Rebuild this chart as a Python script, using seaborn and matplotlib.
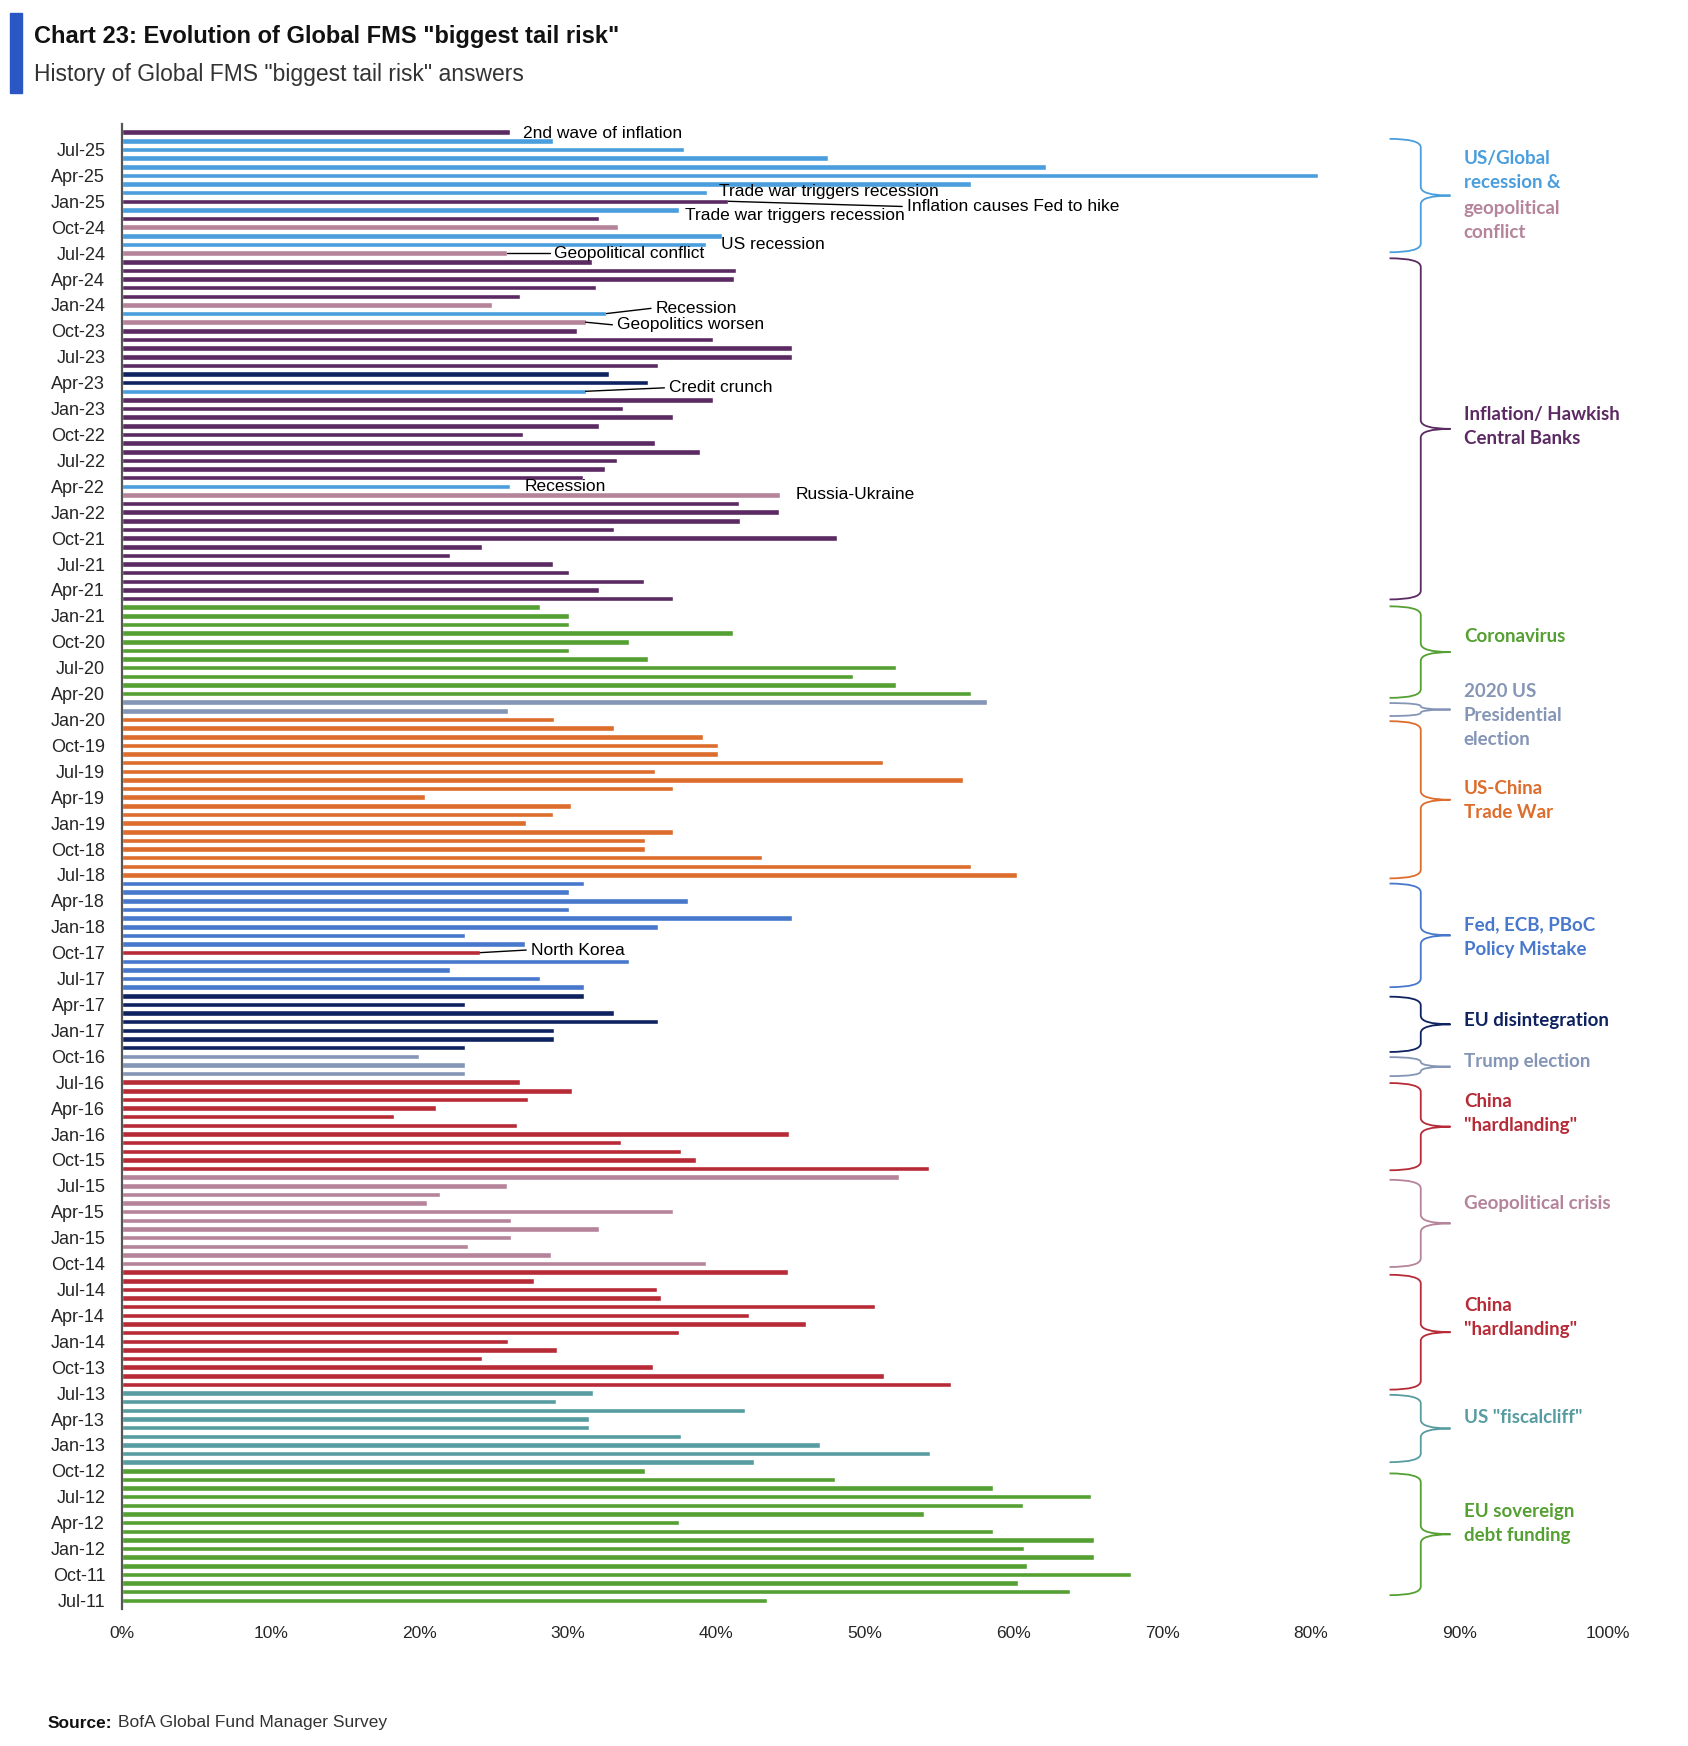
import numpy as np
import pandas as pd
import matplotlib
matplotlib.use('Agg')
import matplotlib.pyplot as plt
import matplotlib.font_manager as fm
from matplotlib.path import Path
from matplotlib.patches import PathPatch, Rectangle
import seaborn as sns

sns.set_theme(style='white')

available = {f.name for f in fm.fontManager.ttflist}
NARROW = 'Liberation Sans Narrow' if 'Liberation Sans Narrow' in available else 'Liberation Sans'
plt.rcParams['font.family'] = [NARROW, 'DejaVu Sans']

# ==================== data (top = Sep-25, bottom = Jul-11) ====================
# share of FMS answers naming the "biggest tail risk", %
values = [
    26.1, 29.0, 37.8, 47.5, 62.2, 80.5, 57.1, 39.4, 40.8,                      # 2025 Sep..Jan
    37.5, 32.1, 33.4, 40.4, 39.3, 25.9, 31.6, 41.3, 41.2, 31.9, 26.8, 24.9,    # 2024
    32.6, 31.2, 30.6, 39.8, 45.1, 45.1, 36.1, 32.8, 35.4, 31.2, 39.8, 33.7,    # 2023
    37.1, 32.1, 27.0, 35.9, 38.9, 33.3, 32.5, 31.0, 26.1, 44.3, 41.5, 44.2,    # 2022
    41.6, 33.1, 48.1, 24.2, 22.1, 29.0, 30.1, 35.1, 32.1, 37.1, 28.1, 30.1,    # 2021
    30.1, 41.1, 34.1, 30.1, 35.4, 52.1, 49.2, 52.1, 57.1, 58.2, 26.0, 29.1,    # 2020
    33.1, 39.1, 40.1, 40.1, 51.2, 35.9, 56.6, 37.1, 20.4, 30.2, 29.0, 27.2,    # 2019
    37.1, 35.2, 35.2, 43.1, 57.1, 60.2, 31.1, 30.1, 38.1, 30.1, 45.1, 36.1,    # 2018
    23.1, 27.1, 24.1, 34.1, 22.1, 28.1, 31.1, 31.1, 23.1, 33.1, 36.1, 29.1,    # 2017
    29.1, 23.1, 20.0, 23.1, 23.1, 26.8, 30.3, 27.3, 21.1, 18.3, 26.6, 44.9,    # 2016
    33.6, 37.6, 38.6, 54.3, 52.3, 25.9, 21.4, 20.5, 37.1, 26.2, 32.1, 26.2,    # 2015
    23.3, 28.9, 39.3, 44.8, 27.7, 36.0, 36.3, 50.7, 42.2, 46.0, 37.5, 26.0,    # 2014
    29.3, 24.2, 35.7, 51.3, 55.8, 31.7, 29.2, 41.9, 31.4, 31.4, 37.6, 47.0,    # 2013
    54.4, 42.5, 35.2, 48.0, 58.6, 65.2, 60.6, 54.0, 37.5, 58.6, 65.4, 60.7,    # 2012
    65.4, 60.9, 67.9, 60.3, 63.8, 43.4,                                        # 2011 Dec..Jul
]

# R recession, G geopolitics, I inflation, E EU/credit, C covid, P US election,
# T trade war, F policy mistake, H China / N.Korea, S fiscal cliff, D EU debt
risk_codes = (
    "IRRRRRRRI"
    "RIGRRGIIIIIG"
    "RGIIIIIEERII"
    "IIIIIIIIRGII"
    "IIIIIIIIIICC"
    "CCCCCCCCCPPT"
    "TTTTTTTTTTTT"
    "TTTTTTFFFFFF"
    "FFHFFFFEEEEE"
    "EEPPPHHHHHHH"
    "HHHHGGGGGGGG"
    "GGGHHHHHHHHH"
    "HHHHHSSSSSSS"
    "SSDDDDDDDDDD"
    "DDDDDD"
)

palette = {
    'R': '#4A9EDD', 'G': '#B5849B', 'I': '#5B2A63', 'E': '#0E2260',
    'C': '#55A032', 'D': '#55A032', 'P': '#8595B6', 'T': '#DD6D2D',
    'F': '#4778CC', 'H': '#B72B37', 'S': '#579CA1',
}

months = [p.strftime('%b-%y') for p in pd.period_range('2011-07', '2025-09', freq='M')][::-1]

df = pd.DataFrame({'month': months, 'value': values, 'risk': list(risk_codes)})
pos = {m: i for i, m in enumerate(months)}

# annotations next to single bars: text, month, text x, y offset, leader line?
notes = [
    ('2nd wave of inflation', 'Sep-25', 27.0, 0.15, False),
    ('Trade war triggers recession', 'Feb-25', 40.2, -0.1, False),
    ('Inflation causes Fed to hike', 'Jan-25', 52.8, 0.6, True),
    ('Trade war triggers recession', 'Dec-24', 37.9, 0.7, False),
    ('US recession', 'Aug-24', 40.3, 0.0, False),
    ('Geopolitical conflict', 'Jul-24', 29.1, 0.0, True),
    ('Recession', 'Dec-23', 35.9, -0.6, True),
    ('Geopolitics worsen', 'Nov-23', 33.3, 0.3, True),
    ('Credit crunch', 'Mar-23', 36.8, -0.4, True),
    ('Recession', 'Apr-22', 27.1, 0.0, False),
    ('Russia-Ukraine', 'Mar-22', 45.3, 0.0, False),
    ('North Korea', 'Oct-17', 27.5, -0.3, True),
]

# braces on the right: top / bottom (bar index), colour key
braces = [
    (0.77, 13.9, 'R'), (14.6, 54.1, 'I'), (54.9, 65.5, 'C'), (66.1, 67.6, 'P'),
    (68.2, 86.4, 'T'), (87.0, 99.0, 'F'), (100.1, 106.5, 'E'), (107.1, 109.3, 'P'),
    (110.1, 120.2, 'H'), (121.3, 131.4, 'G'), (132.3, 145.6, 'H'), (146.2, 154.0, 'S'),
    (155.3, 169.4, 'D'),
]

group_labels = [
    ('US/Global\nrecession &', 4.4, 'R'),
    ('geopolitical\nconflict', 10.2, 'G'),
    ('Inflation/ Hawkish\nCentral Banks', 34.1, 'I'),
    ('Coronavirus', 58.4, 'C'),
    ('2020 US\nPresidential\nelection', 67.5, 'P'),
    ('US-China\nTrade War', 77.4, 'T'),
    ('Fed, ECB, PBoC\nPolicy Mistake', 93.2, 'F'),
    ('EU disintegration', 102.8, 'E'),
    ('Trump election', 107.6, 'P'),
    ('China\n"hardlanding"', 113.6, 'H'),
    ('Geopolitical crisis', 124.0, 'G'),
    ('China\n"hardlanding"', 137.3, 'H'),
    ('US "fiscalcliff"', 148.8, 'S'),
    ('EU sovereign\ndebt funding', 161.1, 'D'),
]

# ==================== figure ====================
W, H = 1688, 1746
fig = plt.figure(figsize=(W / 100, H / 100), dpi=100)
ax = fig.add_axes([122 / W, 1 - 1609 / H, (1608 - 122) / W, (1609 - 124) / H])

sns.barplot(data=df, x='value', y='month', hue='risk', palette=palette, order=months,
            dodge=False, legend=False, width=0.64, errorbar=None, orient='h',
            saturation=1, ax=ax)

ax.set_xlim(0, 100)
ax.set_ylim(len(months) - 1 + 1.0, -0.95)
ax.set_xticks(np.arange(0, 101, 10))
ax.set_xticklabels([f'{t}%' for t in range(0, 101, 10)],
                   fontsize=12.5, family=['Liberation Sans', 'DejaVu Sans'])
tick_months = [m for m in months if m[:3] in ('Jan', 'Apr', 'Jul', 'Oct')]
ax.set_yticks([pos[m] for m in tick_months])
ax.set_yticklabels(tick_months, fontsize=13)
ax.tick_params(axis='y', length=0, pad=12)
ax.tick_params(axis='x', length=0, pad=12)
ax.set_xlabel('')
ax.set_ylabel('')
for s in ['top', 'right', 'bottom']:
    ax.spines[s].set_visible(False)
ax.spines['left'].set_color('#555555')
ax.spines['left'].set_linewidth(1.6)

# single-bar notes
for text, m, tx, dy, leader in notes:
    y = pos[m]
    ax.text(tx, y + dy, text, fontsize=12.5, va='center', ha='left', color='black')
    if leader:
        ax.plot([df.loc[y, 'value'], tx - 0.3], [y, y + dy], color='black', lw=1)

# braces
for y0, y1, key in braces:
    col = palette[key]
    xe, xv, xt = 85.3, 87.4, 89.4
    ym = (y0 + y1) / 2
    r = min(1.0, (y1 - y0) / 4)
    verts = [(xe, y0), (xv, y0), (xv, y0 + r),
             (xv, ym - r), (xv, ym), (xt, ym),
             (xv, ym), (xv, ym + r),
             (xv, y1 - r), (xv, y1), (xe, y1)]
    codes = [Path.MOVETO, Path.CURVE3, Path.CURVE3,
             Path.LINETO, Path.CURVE3, Path.CURVE3,
             Path.CURVE3, Path.CURVE3,
             Path.LINETO, Path.CURVE3, Path.CURVE3]
    ax.add_patch(PathPatch(Path(verts, codes), fill=False, edgecolor=col, lw=1.3,
                           clip_on=False))

for text, y, key in group_labels:
    ax.text(90.3, y, text, fontsize=13.5, fontweight='bold', color=palette[key],
            va='center', ha='left', linespacing=1.5, family=['Lato', 'DejaVu Sans'])

# title block
fig.add_artist(Rectangle((10 / W, 1 - 93 / H), 12 / W, 80 / H, transform=fig.transFigure,
                         color='#2B57C5'))
fig.text(34 / W, 1 - 36 / H, 'Chart 23: Evolution of Global FMS "biggest tail risk"',
         fontsize=17, fontweight='bold', va='center', ha='left', color='#111111')
fig.text(34 / W, 1 - 75 / H, 'History of Global FMS "biggest tail risk" answers',
         fontsize=16.5, va='center', ha='left', color='#333333')

renderer = fig.canvas.get_renderer()
src = fig.text(48 / W, 1 - 1723 / H, 'Source:', fontsize=12.5, fontweight='bold',
               va='center', color='#111111')
bb = src.get_window_extent(renderer=renderer)
fig.text((bb.x1 + 5) / W, 1 - 1723 / H, 'BofA Global Fund Manager Survey', fontsize=12.5,
         va='center', color='#333333')

fig.savefig('out.png', dpi=100)
